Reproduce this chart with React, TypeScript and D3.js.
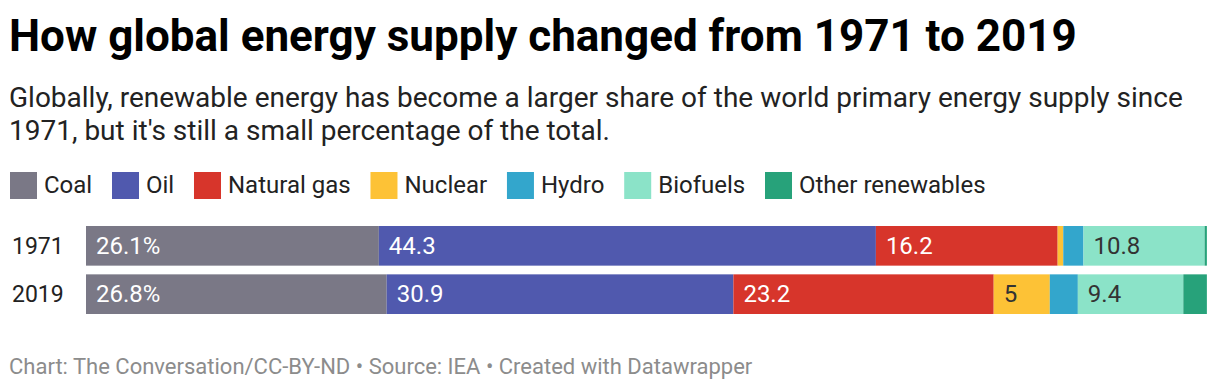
import React, { useEffect, useRef } from 'react';
import * as d3 from 'd3';

const categories = ['Coal', 'Oil', 'Natural gas', 'Nuclear', 'Hydro', 'Biofuels', 'Other renewables'];
const colors = ['#7a7886', '#5059ae', '#d7352b', '#fdc236', '#33a6cc', '#8be3c8', '#27a27a'];
const darkText = [false, false, false, true, false, true, false];
const years = ['1971', '2019'];
const values1971 = [26.1, 44.3, 16.2, 0.5, 1.8, 10.8, 0.2];
const values2019 = [26.8, 30.9, 23.2, 5, 2.5, 9.4, 2.1];
const rows = [values1971, values2019];

const FONT = 'Roboto, sans-serif';

export default function App() {
  const svgRef = useRef<SVGSVGElement>(null);

  useEffect(() => {
    if (!svgRef.current) return;
    document.body.style.margin = '0';
    const svg = d3.select(svgRef.current);
    svg.selectAll('*').remove();

    // Title and description
    svg.append('text')
      .attr('x', 9).attr('y', 51)
      .attr('font-family', FONT).attr('font-weight', 700).attr('font-size', 44)
      .attr('fill', '#000')
      .text('How global energy supply changed from 1971 to 2019');

    const desc = [
      'Globally, renewable energy has become a larger share of the world primary energy supply since',
      "1971, but it's still a small percentage of the total.",
    ];
    desc.forEach((line, i) => {
      svg.append('text')
        .attr('x', 9).attr('y', 107 + i * 33)
        .attr('font-family', FONT).attr('font-size', 28)
        .attr('fill', '#222')
        .text(line);
    });

    // Legend
    let lx = 10;
    const legend = svg.append('g').attr('transform', 'translate(0,172)');
    categories.forEach((c, i) => {
      legend.append('rect')
        .attr('x', lx).attr('y', 0).attr('width', 27).attr('height', 27)
        .attr('fill', colors[i]);
      const t = legend.append('text')
        .attr('x', lx + 34).attr('y', 21)
        .attr('font-family', FONT).attr('font-size', 24)
        .attr('fill', '#222')
        .text(c);
      const w = (t.node() as SVGTextElement).getComputedTextLength();
      lx += 34 + w + 19.8;
    });

    // Bars
    const x = d3.scaleLinear().domain([0, 100]).range([86, 1208]);
    const y = d3.scaleBand().domain(years).range([226, 314]).paddingInner(0.18);

    rows.forEach((vals, r) => {
      const g = svg.append('g');
      const yy = y(years[r]) as number;
      const h = y.bandwidth();
      g.append('text')
        .attr('x', 12).attr('y', yy + h / 2 + 8)
        .attr('font-family', FONT).attr('font-size', 23)
        .attr('fill', '#222')
        .text(years[r]);
      let acc = 0;
      vals.forEach((v, i) => {
        const x0 = x(acc);
        const x1 = x(acc + v);
        acc += v;
        g.append('rect')
          .attr('x', x0).attr('y', yy)
          .attr('width', x1 - x0).attr('height', h)
          .attr('fill', colors[i]);
        if (x1 - x0 >= 40) {
          g.append('text')
            .attr('x', x0 + 10).attr('y', yy + h / 2 + 8)
            .attr('font-family', FONT).attr('font-size', 24)
            .attr('fill', darkText[i] ? '#333' : '#fff')
            .text(i === 0 ? `${v}%` : `${v}`);
        }
      });
    });

    // Footer
    svg.append('text')
      .attr('x', 9).attr('y', 374)
      .attr('font-family', FONT).attr('font-size', 22)
      .attr('fill', '#8c8c8c')
      .text('Chart: The Conversation/CC-BY-ND • Source: IEA • Created with Datawrapper');
  }, []);

  return <svg ref={svgRef} width={1220} height={392} style={{ display: 'block', background: '#fff' }} />;
}
